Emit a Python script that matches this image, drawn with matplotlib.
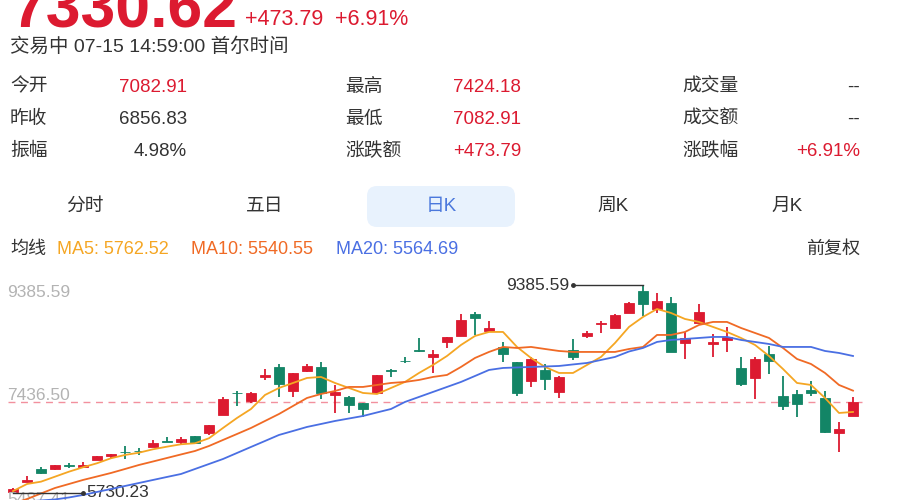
import matplotlib.pyplot as plt
from matplotlib.patches import FancyBboxPatch

plt.rcParams['font.family'] = ['Liberation Sans', 'Noto Sans CJK SC', 'DejaVu Sans']

# daily candles (oldest -> newest)
opens = [5750, 5925, 6151, 6151, 6222, 6190, 6310, 6385, 6455, 6470,
         6539, 6644, 6627, 6732, 6785, 7102, 7495, 7348, 7771, 7947,
         7524, 7876, 7947, 7454, 7419, 7313, 7489, 7885, 8055, 8235,
         8123, 8387, 8492, 8879, 8580, 8299, 8035, 7700, 7894, 7507,
         8246, 8492, 8703, 8633, 8897, 9284, 8967, 9073, 8369, 8721,
         8351, 8422, 7929, 7753, 8175, 7436, 7471, 7542, 7401, 6785,
         7082.91]
highs = [5820, 6028, 6187, 6225, 6257, 6275, 6385, 6420, 6556, 6521,
         6662, 6715, 6715, 6740, 6930, 7419, 7524, 7500, 7911, 7999,
         7845, 7999, 8035, 7630, 7436, 7320, 7810, 7911, 8123, 8457,
         8246, 8480, 8879, 8915, 8756, 8387, 8040, 8123, 7999, 7788,
         8439, 8580, 8756, 8870, 9091, 9385.59, 9249, 9179, 8563, 9055,
         8527, 8651, 8123, 8123, 8316, 7788, 7542, 7700, 7524, 6979,
         7424.18]
lows = [5730.23, 5920, 6063, 6134, 6169, 6169, 6305, 6327, 6327, 6398,
        6530, 6620, 6591, 6600, 6750, 7095, 7260, 7313, 7718, 7419,
        7419, 7859, 7383, 7137, 7137, 7067, 7480, 7771, 8017, 8211,
        7841, 8281, 8485, 8510, 8563, 8035, 7436, 7595, 7542, 7401,
        8070, 8457, 8545, 8625, 8890, 8844, 8897, 8205, 8087, 8715,
        8123, 8211, 7612, 7383, 7823, 7190, 7067, 7436, 6785, 6450,
        7082.91]
closes = [5795, 5958, 6081, 6222, 6204, 6222, 6380, 6415, 6445, 6462,
          6609, 6627, 6679, 6609, 6926, 7383, 7485, 7489, 7806, 7647,
          7841, 7964, 7489, 7507, 7278, 7207, 7806, 7872, 8048, 8225,
          8175, 8475, 8774, 8809, 8633, 8175, 7489, 8087, 7735, 7771,
          8123, 8545, 8721, 8862, 9073, 9055, 9108, 8211, 8457, 8915,
          8387, 8475, 7647, 8087, 8052, 7260, 7295, 7489, 6803, 6856.83,
          7330.62]

ma5 = [5762.52, 5887, 5928, 6016, 6104, 6181, 6252, 6340, 6398, 6438,
       6498, 6544, 6586, 6604, 6692, 6873, 7049, 7207, 7454, 7577,
       7665, 7753, 7771, 7665, 7577, 7489, 7471, 7577, 7683, 7841,
       7982, 8140, 8334, 8492, 8563, 8563, 8299, 8105, 7947, 7841,
       7841, 7982, 8123, 8369, 8651, 8827, 8967, 8897, 8791, 8739,
       8651, 8563, 8457, 8334, 8140, 7911, 7665, 7630, 7401, 7137,
       7155]
ma10 = [5540.55, 5623, 5720, 5817, 5887, 5958, 6019, 6081, 6151, 6222,
        6283, 6345, 6407, 6468, 6556, 6662, 6767, 6873, 6996, 7119,
        7260, 7401, 7471, 7524, 7595, 7595, 7630, 7665, 7683, 7718,
        7771, 7806, 7947, 8105, 8211, 8299, 8281, 8299, 8263, 8228,
        8211, 8211, 8211, 8211, 8263, 8299, 8510, 8510, 8563, 8686,
        8739, 8739, 8633, 8545, 8457, 8281, 8087, 7999, 7841, 7630,
        7530]
ma20 = [5564.69, 5579, 5597, 5615, 5650, 5694, 5747, 5799, 5852, 5905,
        5958, 6011, 6063, 6151, 6239, 6327, 6433, 6539, 6644, 6750,
        6820, 6891, 6943, 6996, 7040, 7084, 7146, 7207, 7331, 7419,
        7507, 7595, 7683, 7788, 7894, 7929, 7938, 7947, 7955, 7964,
        7991, 8017, 8070, 8123, 8219, 8281, 8387, 8422, 8439, 8457,
        8475, 8475, 8422, 8387, 8351, 8299, 8299, 8299, 8228, 8193,
        8140]

axis_labels = [9385.59, 7436.50, 5487.41]
last_price = 7330.62
max_idx, min_idx = 45, 0

RED = '#dc1a30'
GREEN = '#138566'
DARK = '#333333'
C_MA5, C_MA10, C_MA20 = '#f5a623', '#f06a25', '#4a6fe3'

fig = plt.figure(figsize=(9, 5), dpi=100)

# background layer in pixel units (x right, y down)
bg = fig.add_axes([0, 0, 1, 1])
bg.set_xlim(0, 900)
bg.set_ylim(500, 0)
bg.axis('off')


def t(x, y, s, color=DARK, size=13, ha='left', va='center', **kw):
    bg.text(x, y, s, color=color, fontsize=size, ha=ha, va=va, **kw)


# header
t(11, 27, '7330.62', RED, 45, va='baseline', fontweight='bold')
t(245, 25, '+473.79', RED, 15.5, va='baseline')
t(335, 25, '+6.91%', RED, 15.5, va='baseline')
t(10, 47, '交易中 07-15 14:59:00 首尔时间', DARK, 14)

rows = [
    (87, '今开', '7082.91', RED, '最高', '7424.18', RED, '成交量', '--', DARK),
    (119, '昨收', '6856.83', DARK, '最低', '7082.91', RED, '成交额', '--', DARK),
    (151, '振幅', '4.98%', DARK, '涨跌额', '+473.79', RED, '涨跌幅', '+6.91%', RED),
]
for y, l1, v1, c1, l2, v2, c2, l3, v3, c3 in rows:
    t(10, y, l1, size=13.5)
    t(187, y, v1, c1, 13.5, ha='right')
    t(345, y, l2, size=13.5)
    t(453, y, v2, c2, 13.5)
    t(682, y, l3, size=13.5)
    t(860, y, v3, c3, 13.5, ha='right')

# period tabs
bg.add_patch(FancyBboxPatch((367, 186), 148, 41, boxstyle='round,pad=0,rounding_size=10',
                            fc='#e8f2fd', ec='none'))
for x, s, c in [(85, '分时', DARK), (265, '五日', DARK), (441, '日K', '#4b78dc'),
                (613, '周K', DARK), (787, '月K', DARK)]:
    t(x, 206, s, c, 13.5, ha='center')

# moving average legend
t(10, 249, '均线', DARK, 13)
t(57, 249, 'MA5: 5762.52', C_MA5, 13)
t(191, 249, 'MA10: 5540.55', C_MA10, 13)
t(336, 249, 'MA20: 5564.69', C_MA20, 13)
t(860, 249, '前复权', DARK, 13, ha='right')

# candlestick chart
ax = fig.add_axes([0, -0.0134, 1, 0.443])
ax.patch.set_alpha(0)
ax.axis('off')
n = len(closes)
x = list(range(n))
ax.set_xlim(-13 / 14, 887 / 14)
ax.set_ylim(axis_labels[2], axis_labels[0])

for i in x:
    o, h, l, c = opens[i], highs[i], lows[i], closes[i]
    col = RED if c >= o else GREEN
    ax.vlines(i, l, h, color=col, lw=1.3, zorder=2, clip_on=False)
    ax.bar(i, max(abs(c - o), 12), bottom=min(o, c), width=0.7,
           color=col, edgecolor=col, lw=0.6, zorder=3, clip_on=False)

ax.plot(x, ma5, color=C_MA5, lw=1.3, zorder=4)
ax.plot(x, ma10, color=C_MA10, lw=1.3, zorder=4)
ax.plot(x, ma20, color=C_MA20, lw=1.3, zorder=4)

ax.axhline(last_price, color='#f2909e', lw=1, ls=(0, (5, 4)), xmin=0.009, xmax=0.958, zorder=1)

for v, va in zip(axis_labels, ['top', 'center', 'bottom']):
    ax.text(-0.4, v, f'{v:.2f}', color='#b3b3b3', fontsize=12.5, va=va, ha='left')

# max / min markers
hi = highs[max_idx]
ax.plot([max_idx, max_idx - 5], [hi, hi], color=DARK, lw=1, clip_on=False, zorder=5)
ax.plot(max_idx - 5, hi, 'o', color=DARK, ms=2.5, clip_on=False, zorder=5)
ax.text(max_idx - 5.25, hi, f'{hi:.2f}', color=DARK, fontsize=12.5, ha='right', va='center')

lo = lows[min_idx]
ax.plot([min_idx, min_idx + 5], [lo, lo], color=DARK, lw=1, clip_on=False, zorder=5)
ax.plot(min_idx + 5, lo, 'o', color=DARK, ms=2.5, clip_on=False, zorder=5)
ax.text(min_idx + 5.2, lo, f'{lo:.2f}', color=DARK, fontsize=12.5, ha='left', va='center')

fig.savefig('out.png', dpi=100)
